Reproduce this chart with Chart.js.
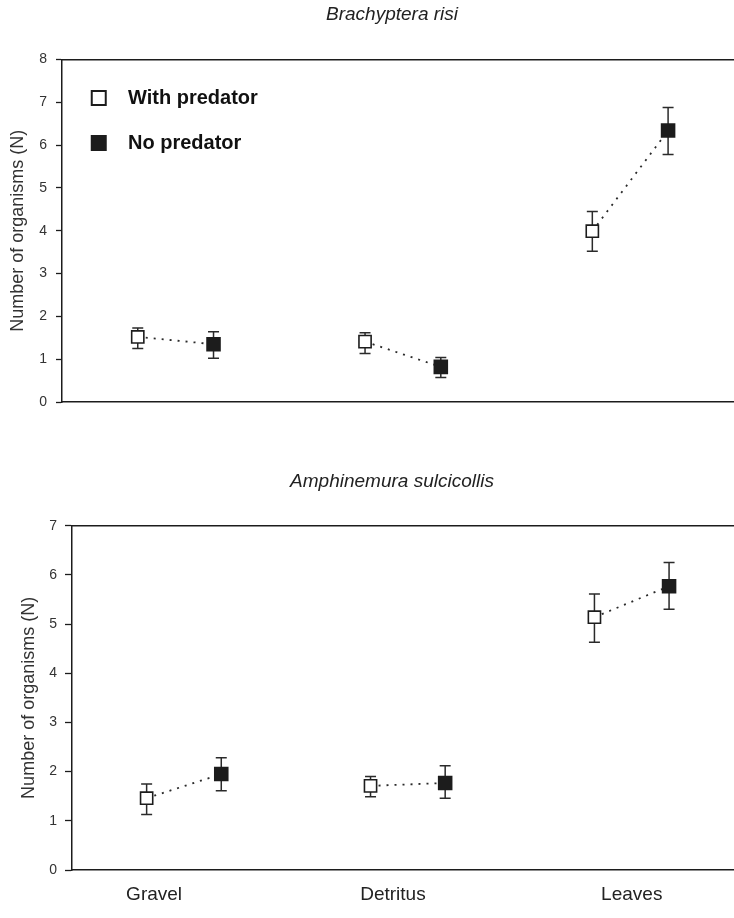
<!DOCTYPE html>
<html>
<head>
<meta charset="utf-8">
<script src="https://cdn.jsdelivr.net/npm/chart.js@4.4.1/dist/chart.umd.min.js"></script>
<style>
  html, body { margin: 0; padding: 0; background: #fff; }
  canvas { display: block; }
</style>
</head>
<body>
<canvas id="chart-br" width="734" height="430"></canvas>
<canvas id="chart-am" width="734" height="488"></canvas>
<script>
// substrate categories and treatments
const categories = ["Gravel", "Detritus", "Leaves"];
const seriesNames = ["With predator", "No predator"];

// Brachyptera risi: means and error bar ends
const brWith   = [1.52, 1.41, 3.99];
const brWithHi = [1.73, 1.62, 4.45];
const brWithLo = [1.25, 1.13, 3.52];
const brNo     = [1.35, 0.82, 6.34];
const brNoHi   = [1.64, 1.04, 6.88];
const brNoLo   = [1.02, 0.57, 5.78];
const brTicks  = [0, 1, 2, 3, 4, 5, 6, 7, 8];

// Amphinemura sulcicollis
const amWith   = [1.46, 1.71, 5.14];
const amWithHi = [1.75, 1.90, 5.61];
const amWithLo = [1.13, 1.49, 4.63];
const amNo     = [1.95, 1.77, 5.77];
const amNoHi   = [2.28, 2.12, 6.25];
const amNoLo   = [1.61, 1.46, 5.30];
const amTicks  = [0, 1, 2, 3, 4, 5, 6, 7];

// x layout: each category gets a pair of slots, 3 units apart
const xOf = (i, s) => 3 * i + 1 + s;
const labelPos = [1.1, 4.3, 7.5];
const X_MAX = 8.87;
const TITLE_CENTER = 392;

const INK = '#1c1c1c';
Chart.defaults.font.family = "'Liberation Sans', Arial, sans-serif";
Chart.defaults.color = '#2a2a2a';

// vertical error bars with caps, drawn under the markers
const errorBars = {
  id: 'errorBars',
  beforeDatasetsDraw(chart) {
    const ctx = chart.ctx;
    const y = chart.scales.y;
    chart.data.datasets.forEach((ds, di) => {
      if (!ds.errHi) return;
      const meta = chart.getDatasetMeta(di);
      meta.data.forEach((pt, i) => {
        const top = y.getPixelForValue(ds.errHi[i]);
        const bot = y.getPixelForValue(ds.errLo[i]);
        ctx.save();
        ctx.strokeStyle = '#2a2a2a';
        ctx.lineWidth = 1.5;
        ctx.beginPath();
        ctx.moveTo(pt.x, top); ctx.lineTo(pt.x, bot);
        ctx.moveTo(pt.x - 5.5, top); ctx.lineTo(pt.x + 5.5, top);
        ctx.moveTo(pt.x - 5.5, bot); ctx.lineTo(pt.x + 5.5, bot);
        ctx.stroke();
        ctx.restore();
      });
    });
  }
};

// nudge the title and the in-plot legend to where the figure has them
const placeBoxes = {
  id: 'placeBoxes',
  afterLayout(chart) {
    const area = chart.chartArea;
    const t = chart.titleBlock;
    if (t) t.left = 2 * TITLE_CENTER - t.right;
    const lg = chart.legend;
    if (lg && lg.options.display) {
      lg.left = area.left - 7.6;
      lg.top = area.top + 3.5;
      lg.bottom = area.bottom;
      lg.right = area.right;
    }
  }
};

function squareIcon(filled) {
  const c = document.createElement('canvas');
  c.width = 18; c.height = 18;
  const g = c.getContext('2d');
  if (filled) {
    g.fillStyle = INK;
    g.fillRect(1, 1, 16, 16);
  } else {
    g.fillStyle = '#fff';
    g.strokeStyle = INK;
    g.lineWidth = 2;
    g.fillRect(2, 2, 14, 14);
    g.strokeRect(2, 2, 14, 14);
  }
  return c;
}
const legendIcons = [squareIcon(false), squareIcon(true)];

function makeChart(id, o) {
  const datasets = [
    {
      label: seriesNames[0],
      data: o.withVals.map((v, i) => ({ x: xOf(i, 0), y: v })),
      errHi: o.withHi, errLo: o.withLo,
      pointStyle: 'rect', pointRadius: 8.6,
      pointBackgroundColor: '#fff', pointBorderColor: INK, pointBorderWidth: 1.6
    },
    {
      label: seriesNames[1],
      data: o.noVals.map((v, i) => ({ x: xOf(i, 1), y: v })),
      errHi: o.noHi, errLo: o.noLo,
      pointStyle: 'rect', pointRadius: 10.3,
      pointBackgroundColor: INK, pointBorderColor: INK, pointBorderWidth: 0
    }
  ];
  categories.forEach((c, i) => {
    datasets.push({
      label: c, type: 'line', showLine: true,
      data: [{ x: xOf(i, 0), y: o.withVals[i] }, { x: xOf(i, 1), y: o.noVals[i] }],
      borderColor: '#2a2a2a', borderWidth: 1.8, borderDash: [2, 6],
      pointRadius: 0, fill: false
    });
  });

  return new Chart(document.getElementById(id), {
    type: 'scatter',
    data: { datasets },
    options: {
      responsive: false,
      animation: false,
      layout: { autoPadding: false, padding: { left: 0, right: 0, top: 0, bottom: o.padBottom } },
      plugins: {
        tooltip: { enabled: false },
        title: {
          display: true,
          text: o.title,
          fullSize: false,
          color: '#222',
          font: { size: 19, style: 'italic', weight: 'normal' },
          padding: { top: o.titleTop, bottom: o.titleBottom }
        },
        legend: {
          display: o.legend,
          position: 'chartArea',
          align: 'start',
          labels: {
            usePointStyle: true,
            pointStyleWidth: 38.6,
            padding: 25,
            color: '#111',
            font: { size: 20, weight: 'bold' },
            filter: item => item.datasetIndex < 2,
            generateLabels: chart =>
              Chart.defaults.plugins.legend.labels.generateLabels(chart)
                .map(l => Object.assign(l, { pointStyle: legendIcons[l.datasetIndex] }))
          }
        }
      },
      scales: {
        x: {
          type: 'linear',
          min: 0, max: X_MAX,
          grid: { display: false, drawTicks: false },
          border: { color: INK, width: 1.5 },
          afterBuildTicks: s => { s.ticks = labelPos.map(v => ({ value: v })); },
          afterFit: s => { s.height = o.xAxisH; },
          ticks: {
            display: o.xLabels,
            autoSkip: false, maxRotation: 0,
            padding: 13.6,
            color: '#222',
            font: { size: 19 },
            callback: (v, i) => categories[i]
          }
        },
        x2: {
          type: 'linear', position: 'top',
          min: 0, max: 1,
          grid: { display: false, drawTicks: false },
          ticks: { display: false },
          border: { color: INK, width: 1.5 }
        },
        y: {
          min: o.ticks[0], max: o.ticks[o.ticks.length - 1],
          afterFit: s => { s.width = o.axisLeft; },
          afterBuildTicks: s => { s.ticks = o.ticks.map(v => ({ value: v })); },
          grid: { drawOnChartArea: false, drawTicks: true, tickLength: o.tickLen, tickColor: INK, tickWidth: 1.3 },
          border: { color: INK, width: 1.5 },
          ticks: { padding: o.tickPad, color: '#333', font: { size: 14 } },
          title: {
            display: true,
            text: 'Number of organisms (N)',
            color: '#333',
            font: { size: 18 },
            padding: { top: o.yTitlePad, bottom: 0 }
          }
        }
      }
    },
    plugins: [errorBars, placeBoxes]
  });
}

makeChart('chart-br', {
  title: 'Brachyptera risi',
  withVals: brWith, withHi: brWithHi, withLo: brWithLo,
  noVals: brNo, noHi: brNoHi, noLo: brNoLo,
  ticks: brTicks,
  legend: true, xLabels: false, xAxisH: 0,
  axisLeft: 62, tickLen: 6, tickPad: 9, yTitlePad: 7.2,
  titleTop: 3.6, titleBottom: 33.1, padBottom: 28
});

makeChart('chart-am', {
  title: 'Amphinemura sulcicollis',
  withVals: amWith, withHi: amWithHi, withLo: amWithLo,
  noVals: amNo, noHi: amNoHi, noLo: amNoLo,
  ticks: amTicks,
  legend: false, xLabels: true, xAxisH: 36.4,
  axisLeft: 72, tickLen: 7, tickPad: 8, yTitlePad: 18,
  titleTop: 40.6, titleBottom: 32.3, padBottom: 11.6
});
</script>
</body>
</html>
